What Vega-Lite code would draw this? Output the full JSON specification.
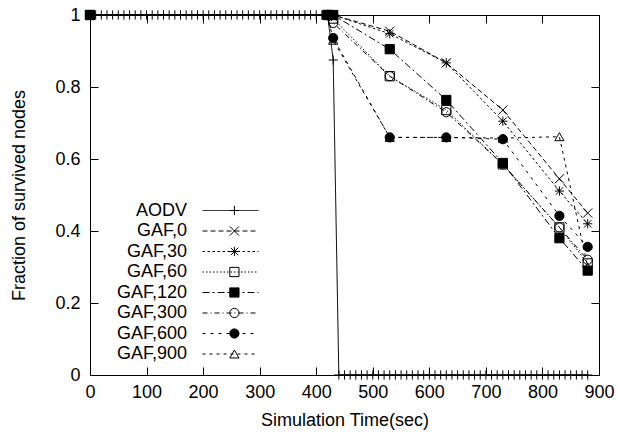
{
  "$schema": "https://vega.github.io/schema/vega-lite/v6.json",
  "width": 509,
  "height": 360,
  "autosize": {"type": "none"},
  "padding": {"left": 90, "top": 15, "right": 19, "bottom": 64},
  "background": "white",
  "config": {
    "view": {"stroke": "black", "strokeWidth": 1},
    "font": "Liberation Sans",
    "axis": {"grid": false, "domain": false, "tickColor": "black", "tickSize": -8, "tickWidth": 1, "labelColor": "black", "labelFontSize": 18, "labelFont": "Liberation Sans", "labelFlush": false, "labelOverlap": false, "titleFont": "Liberation Sans", "titleFontSize": 18, "titleFontWeight": "normal", "titleColor": "black"},
    "legend": {"symbolBaseStrokeColor": "black", "symbolBaseFillColor": "transparent", "labelFont": "Liberation Sans", "labelFontSize": 18, "labelColor": "black", "padding": 0, "rowPadding": 2.5, "orient": "none"}
  },
  "data": {"values": [
    {"series":"AODV","time":0,"fraction":1},{"series":"AODV","time":10,"fraction":1},{"series":"AODV","time":20,"fraction":1},{"series":"AODV","time":30,"fraction":1},{"series":"AODV","time":40,"fraction":1},{"series":"AODV","time":50,"fraction":1},{"series":"AODV","time":60,"fraction":1},{"series":"AODV","time":70,"fraction":1},{"series":"AODV","time":80,"fraction":1},{"series":"AODV","time":90,"fraction":1},
    {"series":"AODV","time":100,"fraction":1},{"series":"AODV","time":110,"fraction":1},{"series":"AODV","time":120,"fraction":1},{"series":"AODV","time":130,"fraction":1},{"series":"AODV","time":140,"fraction":1},{"series":"AODV","time":150,"fraction":1},{"series":"AODV","time":160,"fraction":1},{"series":"AODV","time":170,"fraction":1},{"series":"AODV","time":180,"fraction":1},{"series":"AODV","time":190,"fraction":1},
    {"series":"AODV","time":200,"fraction":1},{"series":"AODV","time":210,"fraction":1},{"series":"AODV","time":220,"fraction":1},{"series":"AODV","time":230,"fraction":1},{"series":"AODV","time":240,"fraction":1},{"series":"AODV","time":250,"fraction":1},{"series":"AODV","time":260,"fraction":1},{"series":"AODV","time":270,"fraction":1},{"series":"AODV","time":280,"fraction":1},{"series":"AODV","time":290,"fraction":1},
    {"series":"AODV","time":300,"fraction":1},{"series":"AODV","time":310,"fraction":1},{"series":"AODV","time":320,"fraction":1},{"series":"AODV","time":330,"fraction":1},{"series":"AODV","time":340,"fraction":1},{"series":"AODV","time":350,"fraction":1},{"series":"AODV","time":360,"fraction":1},{"series":"AODV","time":370,"fraction":1},{"series":"AODV","time":380,"fraction":1},{"series":"AODV","time":390,"fraction":1},
    {"series":"AODV","time":400,"fraction":1},{"series":"AODV","time":410,"fraction":1},{"series":"AODV","time":420,"fraction":1},{"series":"AODV","time":430,"fraction":0.875},{"series":"AODV","time":440,"fraction":0},{"series":"AODV","time":450,"fraction":0},{"series":"AODV","time":460,"fraction":0},{"series":"AODV","time":470,"fraction":0},{"series":"AODV","time":480,"fraction":0},{"series":"AODV","time":490,"fraction":0},
    {"series":"AODV","time":500,"fraction":0},{"series":"AODV","time":510,"fraction":0},{"series":"AODV","time":520,"fraction":0},{"series":"AODV","time":530,"fraction":0},{"series":"AODV","time":540,"fraction":0},{"series":"AODV","time":550,"fraction":0},{"series":"AODV","time":560,"fraction":0},{"series":"AODV","time":570,"fraction":0},{"series":"AODV","time":580,"fraction":0},{"series":"AODV","time":590,"fraction":0},
    {"series":"AODV","time":600,"fraction":0},{"series":"AODV","time":610,"fraction":0},{"series":"AODV","time":620,"fraction":0},{"series":"AODV","time":630,"fraction":0},{"series":"AODV","time":640,"fraction":0},{"series":"AODV","time":650,"fraction":0},{"series":"AODV","time":660,"fraction":0},{"series":"AODV","time":670,"fraction":0},{"series":"AODV","time":680,"fraction":0},{"series":"AODV","time":690,"fraction":0},
    {"series":"AODV","time":700,"fraction":0},{"series":"AODV","time":710,"fraction":0},{"series":"AODV","time":720,"fraction":0},{"series":"AODV","time":730,"fraction":0},{"series":"AODV","time":740,"fraction":0},{"series":"AODV","time":750,"fraction":0},{"series":"AODV","time":760,"fraction":0},{"series":"AODV","time":770,"fraction":0},{"series":"AODV","time":780,"fraction":0},{"series":"AODV","time":790,"fraction":0},
    {"series":"AODV","time":800,"fraction":0},{"series":"AODV","time":810,"fraction":0},{"series":"AODV","time":820,"fraction":0},{"series":"AODV","time":830,"fraction":0},{"series":"AODV","time":840,"fraction":0},{"series":"AODV","time":850,"fraction":0},{"series":"AODV","time":860,"fraction":0},{"series":"AODV","time":870,"fraction":0},{"series":"AODV","time":880,"fraction":0},
    {"series":"GAF,0","time":0,"fraction":1},{"series":"GAF,0","time":420,"fraction":1},{"series":"GAF,0","time":430,"fraction":1},{"series":"GAF,0","time":530,"fraction":0.955},{"series":"GAF,0","time":630,"fraction":0.867},{"series":"GAF,0","time":730,"fraction":0.736},{"series":"GAF,0","time":830,"fraction":0.545},{"series":"GAF,0","time":880,"fraction":0.45},
    {"series":"GAF,30","time":0,"fraction":1},{"series":"GAF,30","time":420,"fraction":1},{"series":"GAF,30","time":430,"fraction":1},{"series":"GAF,30","time":530,"fraction":0.948},{"series":"GAF,30","time":630,"fraction":0.867},{"series":"GAF,30","time":730,"fraction":0.705},{"series":"GAF,30","time":830,"fraction":0.511},{"series":"GAF,30","time":880,"fraction":0.42},
    {"series":"GAF,60","time":0,"fraction":1},{"series":"GAF,60","time":420,"fraction":1},{"series":"GAF,60","time":430,"fraction":0.99},{"series":"GAF,60","time":530,"fraction":0.83},{"series":"GAF,60","time":630,"fraction":0.736},{"series":"GAF,60","time":730,"fraction":0.585},{"series":"GAF,60","time":830,"fraction":0.41},{"series":"GAF,60","time":880,"fraction":0.31},
    {"series":"GAF,120","time":0,"fraction":1},{"series":"GAF,120","time":420,"fraction":1},{"series":"GAF,120","time":430,"fraction":1},{"series":"GAF,120","time":530,"fraction":0.905},{"series":"GAF,120","time":630,"fraction":0.764},{"series":"GAF,120","time":730,"fraction":0.589},{"series":"GAF,120","time":830,"fraction":0.38},{"series":"GAF,120","time":880,"fraction":0.29},
    {"series":"GAF,300","time":0,"fraction":1},{"series":"GAF,300","time":420,"fraction":1},{"series":"GAF,300","time":430,"fraction":0.978},{"series":"GAF,300","time":530,"fraction":0.83},{"series":"GAF,300","time":630,"fraction":0.73},{"series":"GAF,300","time":730,"fraction":0.585},{"series":"GAF,300","time":830,"fraction":0.41},{"series":"GAF,300","time":880,"fraction":0.32},
    {"series":"GAF,600","time":0,"fraction":1},{"series":"GAF,600","time":420,"fraction":1},{"series":"GAF,600","time":430,"fraction":0.936},{"series":"GAF,600","time":530,"fraction":0.66},{"series":"GAF,600","time":630,"fraction":0.66},{"series":"GAF,600","time":730,"fraction":0.655},{"series":"GAF,600","time":830,"fraction":0.442},{"series":"GAF,600","time":880,"fraction":0.356},
    {"series":"GAF,900","time":0,"fraction":1},{"series":"GAF,900","time":420,"fraction":1},{"series":"GAF,900","time":430,"fraction":0.93},{"series":"GAF,900","time":530,"fraction":0.66},{"series":"GAF,900","time":630,"fraction":0.66},{"series":"GAF,900","time":730,"fraction":0.658},{"series":"GAF,900","time":830,"fraction":0.662},{"series":"GAF,900","time":880,"fraction":0.3}
  ]},
  "layer": [
    {
      "mark": {"type": "line", "strokeWidth": 1},
      "encoding": {
        "x": {"field": "time", "type": "quantitative", "scale": {"domain": [0, 900], "nice": false},
              "axis": {"orient": "bottom", "values": [0,100,200,300,400,500,600,700,800,900], "format": "d", "labelPadding": 16, "title": "Simulation Time(sec)", "titlePadding": 10}},
        "y": {"field": "fraction", "type": "quantitative", "scale": {"domain": [0, 1], "nice": false},
              "axis": {"orient": "left", "values": [0,0.2,0.4,0.6,0.8,1], "format": "~g", "labelPadding": 18, "title": "Fraction of survived nodes", "titlePadding": 26}},
        "strokeDash": {"field": "series", "type": "nominal",
          "scale": {"domain": ["GAF,900","GAF,600","GAF,300","GAF,120","GAF,60","GAF,30","GAF,0","AODV"],
                    "range": [[3,4],[3,5],[5,3,1,3],[7,3,2,3],[1.5,2],[2.5,2.5],[5,3],[1,0]]},
          "legend": {"values": ["AODV","GAF,0","GAF,30","GAF,60","GAF,120","GAF,300","GAF,600","GAF,900"], "title": null, "symbolType": "stroke", "symbolSize": 3136, "symbolStrokeWidth": 1, "symbolStrokeColor": "black", "labelExpr": "''", "clipHeight": 18, "legendX": 112, "legendY": 186.5}},
        "color": {"field": "series", "type": "nominal",
          "scale": {"domain": ["GAF,0","AODV","GAF,30","GAF,60","GAF,120","GAF,300","GAF,600","GAF,900"],
                    "range": ["black","black","black","black","black","black","black","black"]},
          "legend": {"values": ["AODV","GAF,0","GAF,30","GAF,60","GAF,120","GAF,300","GAF,600","GAF,900"], "title": null, "symbolOpacity": 0, "symbolSize": 4, "labelAlign": "right", "labelBaseline": "middle", "labelOffset": 73, "clipHeight": 18, "legendX": 6, "legendY": 186.5}}
      }
    },
    {
      "mark": {"type": "point", "size": 85, "strokeWidth": 1, "opacity": 1, "stroke": "black", "color": "black"},
      "encoding": {
        "x": {"field": "time", "type": "quantitative", "axis": {"orient": "top", "labels": false, "title": null, "values": [0,100,200,300,400,500,600,700,800,900]}},
        "y": {"field": "fraction", "type": "quantitative", "axis": {"orient": "right", "labels": false, "title": null, "values": [0,0.2,0.4,0.6,0.8,1]}},
        "shape": {"field": "series", "type": "nominal",
          "scale": {"domain": ["AODV","GAF,0","GAF,30","GAF,60","GAF,120","GAF,300","GAF,600","GAF,900"],
                    "range": ["M-1,0H1M0,-1V1","M-1,-1L1,1M-1,1L1,-1","M-1,0H1M0,-1V1M-0.8,-0.8L0.8,0.8M-0.8,0.8L0.8,-0.8","square","square","circle","circle","triangle-up"]},
          "legend": {"title": null, "symbolSize": 85, "symbolStrokeWidth": 1, "symbolStrokeColor": "black", "labelExpr": "''", "clipHeight": 18, "legendX": 135.4, "legendY": 186.5}},
        "fill": {"field": "series", "type": "nominal",
          "scale": {"domain": ["AODV","GAF,0","GAF,30","GAF,60","GAF,120","GAF,300","GAF,600","GAF,900"],
                    "range": ["transparent","transparent","transparent","transparent","black","transparent","black","transparent"]},
          "legend": {"title": null}}
      }
    }
  ]
}
